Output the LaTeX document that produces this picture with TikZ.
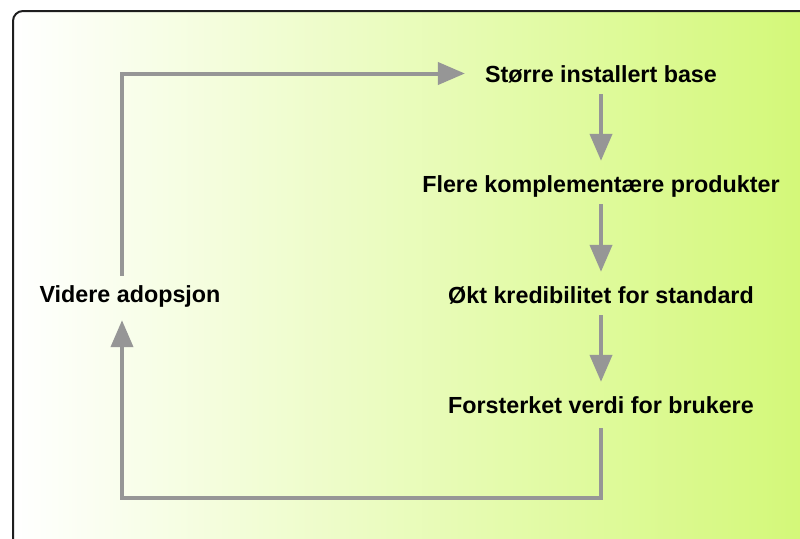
\documentclass[tikz,border=0pt]{standalone}
\usepackage{fontspec}
\setmainfont{Liberation Sans}
\usetikzlibrary{arrows.meta,calc}
\definecolor{flowgray}{RGB}{150,150,150}
\definecolor{paneledge}{RGB}{30,30,30}
\definecolor{limeend}{RGB}{210,248,116}
\begin{document}
\begin{tikzpicture}[x=1pt, y=-1pt,
  lbl/.style={font=\bfseries\fontsize{23.3}{27}\selectfont, anchor=base,
    inner xsep=0pt, inner ysep=12pt, text height=17pt, text depth=0pt},
  conn/.style={draw=flowgray, line width=4pt,
    -{Triangle[length=27pt,width=22pt]}, shorten >=2pt}]
  \useasboundingbox (0,0) rectangle (800,538);
  \clip (0,0) rectangle (800,538);
  % background panel, running off the right and bottom edges
  \path[draw=paneledge, line width=2pt, rounded corners=10pt,
        left color=white, right color=limeend] (13,11) rectangle (830,570);

  % statements of the cycle
  \node[lbl] (base)  at (601,82)  {Større installert base};
  \node[lbl] (comp)  at (601,192) {Flere komplementære produkter};
  \node[lbl] (cred)  at (601,303) {Økt kredibilitet for standard};
  \node[lbl] (user)  at (601,413) {Forsterket verdi for brukere};
  \node[lbl] (adopt) at (130,302) {Videre adopsjon};
  \coordinate (floor) at (0,497.5);

  % downward chain
  \draw[conn] (base.south) -- (comp.north);
  \draw[conn] (comp.south) -- (cred.north);
  \draw[conn] (cred.south) -- (user.north);

  % feedback loop
  \draw[conn, shorten <=-3pt, shorten >=20pt]
    ([xshift=-8pt]adopt.north) |- (base.west);
  \draw[conn, shorten <=3pt, shorten >=6pt]
    (user.south) -- (user.south |- floor) -| ([xshift=-8pt]adopt.south);
\end{tikzpicture}
\end{document}
